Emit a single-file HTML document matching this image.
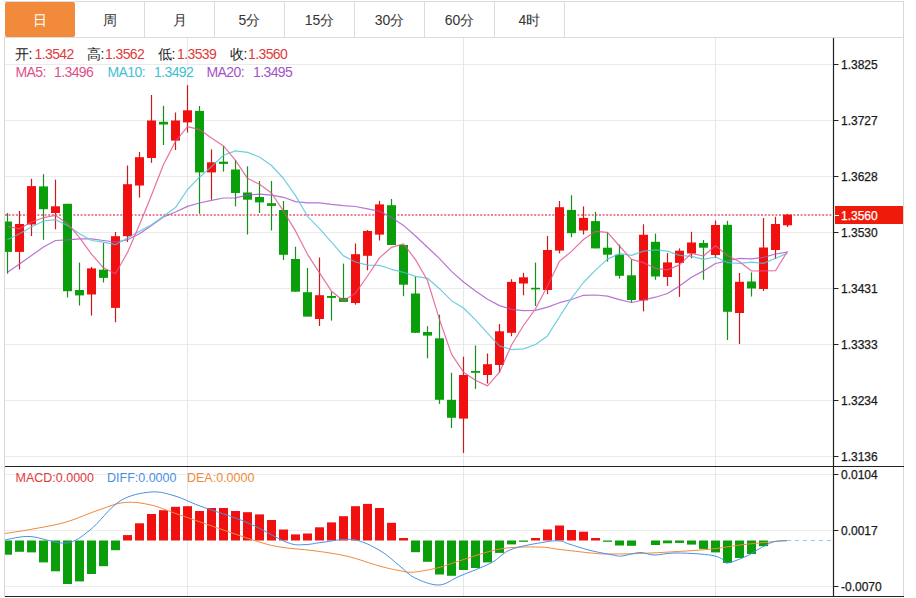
<!DOCTYPE html>
<html><head><meta charset="utf-8">
<style>
html,body{margin:0;padding:0;background:#fff;}
body{width:916px;height:598px;position:relative;overflow:hidden;font-family:"Liberation Sans",sans-serif;}
.tabs{position:absolute;left:4px;top:1px;width:900px;height:37px;border-top:1px solid #dcdcdc;border-bottom:1px solid #dcdcdc;box-sizing:border-box;}
.tab{position:absolute;top:0;height:35px;width:70px;border-right:1px solid #dcdcdc;box-sizing:border-box;text-align:center;line-height:37px;font-size:14px;color:#333;}
.tab.on{background:#f28a3c;color:#fff;border-right:none;border-radius:2px;}
svg{position:absolute;left:0;top:0;}
.ax{font-family:"Liberation Sans",sans-serif;font-size:12px;fill:#1a1a1a;stroke:#1a1a1a;stroke-width:0.25px;}
.lg{position:absolute;font-size:14px;letter-spacing:-0.6px;white-space:pre;line-height:16px;}
.l1{top:46px;} .v{color:#e03a3a;} .l2{top:64px;} .l3{top:470px;font-size:12.5px;letter-spacing:0;}
</style></head><body>
<div class="tabs">
<div class="tab on" style="left:1px;width:70px">日</div>
<div class="tab" style="left:71px">周</div>
<div class="tab" style="left:141px">月</div>
<div class="tab" style="left:211px">5分</div>
<div class="tab" style="left:281px">15分</div>
<div class="tab" style="left:351px">30分</div>
<div class="tab" style="left:421px">60分</div>
<div class="tab" style="left:491px">4时</div>
</div>
<svg width="916" height="598" viewBox="0 0 916 598">
<defs><clipPath id="clipMain"><rect x="5" y="38" width="828" height="428"/></clipPath>
<clipPath id="clipMacd"><rect x="5" y="467" width="828" height="129"/></clipPath></defs>
<line x1="5" y1="64.5" x2="833" y2="64.5" stroke="#ebebeb" stroke-width="1"/><line x1="5" y1="120.5" x2="833" y2="120.5" stroke="#ebebeb" stroke-width="1"/><line x1="5" y1="176.5" x2="833" y2="176.5" stroke="#ebebeb" stroke-width="1"/><line x1="5" y1="232.5" x2="833" y2="232.5" stroke="#ebebeb" stroke-width="1"/><line x1="5" y1="288.5" x2="833" y2="288.5" stroke="#ebebeb" stroke-width="1"/><line x1="5" y1="344.5" x2="833" y2="344.5" stroke="#ebebeb" stroke-width="1"/><line x1="5" y1="400.5" x2="833" y2="400.5" stroke="#ebebeb" stroke-width="1"/><line x1="5" y1="456.5" x2="833" y2="456.5" stroke="#ebebeb" stroke-width="1"/><line x1="5" y1="474.5" x2="833" y2="474.5" stroke="#ebebeb" stroke-width="1"/><line x1="5" y1="530.5" x2="833" y2="530.5" stroke="#ebebeb" stroke-width="1"/><line x1="5" y1="586.5" x2="833" y2="586.5" stroke="#ebebeb" stroke-width="1"/><line x1="187.5" y1="38" x2="187.5" y2="596" stroke="#e4e8ee" stroke-width="1"/><line x1="463.5" y1="38" x2="463.5" y2="596" stroke="#e4e8ee" stroke-width="1"/><line x1="715.5" y1="38" x2="715.5" y2="596" stroke="#e4e8ee" stroke-width="1"/><line x1="5" y1="215" x2="833" y2="215" stroke="#e65a6e" stroke-width="1.3" stroke-dasharray="2,1.6"/><g clip-path="url(#clipMain)"><rect x="6.9" y="213.0" width="1.2" height="60.7" fill="#16901a"/><rect x="3" y="221.5" width="9" height="30.4" fill="#0a9e0a"/><rect x="18.9" y="211.0" width="1.2" height="58.4" fill="#c81c1c"/><rect x="15" y="224.0" width="9" height="27.9" fill="#f01010"/><rect x="30.9" y="178.8" width="1.2" height="57.2" fill="#c81c1c"/><rect x="27" y="186.1" width="9" height="38.4" fill="#f01010"/><rect x="42.9" y="174.2" width="1.2" height="65.6" fill="#16901a"/><rect x="39" y="186.4" width="9" height="22.8" fill="#0a9e0a"/><rect x="54.9" y="179.6" width="1.2" height="49.7" fill="#c81c1c"/><rect x="51" y="206.3" width="9" height="6.7" fill="#f01010"/><rect x="66.9" y="203.8" width="1.2" height="93.7" fill="#16901a"/><rect x="63" y="203.8" width="9" height="87.4" fill="#0a9e0a"/><rect x="78.9" y="262.6" width="1.2" height="42.9" fill="#16901a"/><rect x="75" y="290.0" width="9" height="5.4" fill="#0a9e0a"/><rect x="90.9" y="266.9" width="1.2" height="48.7" fill="#c81c1c"/><rect x="87" y="268.4" width="9" height="26.1" fill="#f01010"/><rect x="102.9" y="243.0" width="1.2" height="39.5" fill="#16901a"/><rect x="99" y="269.7" width="9" height="8.2" fill="#0a9e0a"/><rect x="114.9" y="232.0" width="1.2" height="90.2" fill="#c81c1c"/><rect x="111" y="236.2" width="9" height="71.7" fill="#f01010"/><rect x="126.9" y="165.5" width="1.2" height="76.5" fill="#c81c1c"/><rect x="123" y="184.2" width="9" height="52.0" fill="#f01010"/><rect x="138.9" y="152.0" width="1.2" height="45.6" fill="#c81c1c"/><rect x="135" y="157.2" width="9" height="28.3" fill="#f01010"/><rect x="150.9" y="95.0" width="1.2" height="67.8" fill="#c81c1c"/><rect x="147" y="120.5" width="9" height="37.5" fill="#f01010"/><rect x="162.9" y="105.8" width="1.2" height="39.2" fill="#16901a"/><rect x="159" y="121.8" width="9" height="2.7" fill="#0a9e0a"/><rect x="174.9" y="112.5" width="1.2" height="37.5" fill="#c81c1c"/><rect x="171" y="120.5" width="9" height="20.1" fill="#f01010"/><rect x="186.9" y="85.2" width="1.2" height="47.3" fill="#c81c1c"/><rect x="183" y="110.3" width="9" height="12.1" fill="#f01010"/><rect x="198.9" y="106.0" width="1.2" height="107.7" fill="#16901a"/><rect x="195" y="110.9" width="9" height="61.5" fill="#0a9e0a"/><rect x="210.9" y="149.4" width="1.2" height="50.3" fill="#c81c1c"/><rect x="207" y="162.3" width="9" height="10.1" fill="#f01010"/><rect x="222.9" y="146.2" width="1.2" height="25.4" fill="#16901a"/><rect x="219" y="161.7" width="9" height="2.2" fill="#0a9e0a"/><rect x="234.9" y="160.0" width="1.2" height="46.4" fill="#16901a"/><rect x="231" y="169.5" width="9" height="23.5" fill="#0a9e0a"/><rect x="246.9" y="166.3" width="1.2" height="68.2" fill="#16901a"/><rect x="243" y="192.5" width="9" height="7.2" fill="#0a9e0a"/><rect x="258.9" y="181.0" width="1.2" height="32.0" fill="#16901a"/><rect x="255" y="197.0" width="9" height="5.4" fill="#0a9e0a"/><rect x="270.9" y="181.0" width="1.2" height="49.5" fill="#16901a"/><rect x="267" y="203.2" width="9" height="2.7" fill="#0a9e0a"/><rect x="282.9" y="201.0" width="1.2" height="59.0" fill="#16901a"/><rect x="279" y="210.0" width="9" height="44.8" fill="#0a9e0a"/><rect x="294.9" y="246.7" width="1.2" height="45.0" fill="#16901a"/><rect x="291" y="259.0" width="9" height="32.7" fill="#0a9e0a"/><rect x="306.9" y="268.0" width="1.2" height="48.6" fill="#16901a"/><rect x="303" y="292.2" width="9" height="24.4" fill="#0a9e0a"/><rect x="318.9" y="257.5" width="1.2" height="68.5" fill="#c81c1c"/><rect x="315" y="295.2" width="9" height="23.8" fill="#f01010"/><rect x="330.9" y="291.7" width="1.2" height="28.9" fill="#16901a"/><rect x="327" y="296.0" width="9" height="1.9" fill="#0a9e0a"/><rect x="342.9" y="263.6" width="1.2" height="38.3" fill="#16901a"/><rect x="339" y="297.9" width="9" height="4.0" fill="#0a9e0a"/><rect x="354.9" y="243.5" width="1.2" height="61.1" fill="#c81c1c"/><rect x="351" y="254.2" width="9" height="48.8" fill="#f01010"/><rect x="366.9" y="230.0" width="1.2" height="40.3" fill="#c81c1c"/><rect x="363" y="231.0" width="9" height="24.8" fill="#f01010"/><rect x="378.9" y="200.9" width="1.2" height="39.6" fill="#c81c1c"/><rect x="375" y="204.4" width="9" height="30.2" fill="#f01010"/><rect x="390.9" y="199.0" width="1.2" height="46.0" fill="#16901a"/><rect x="387" y="205.2" width="9" height="39.8" fill="#0a9e0a"/><rect x="402.9" y="245.0" width="1.2" height="51.2" fill="#16901a"/><rect x="399" y="245.0" width="9" height="39.7" fill="#0a9e0a"/><rect x="414.9" y="276.6" width="1.2" height="56.2" fill="#16901a"/><rect x="411" y="293.5" width="9" height="39.3" fill="#0a9e0a"/><rect x="426.9" y="326.2" width="1.2" height="32.1" fill="#16901a"/><rect x="423" y="332.0" width="9" height="3.6" fill="#0a9e0a"/><rect x="438.9" y="314.7" width="1.2" height="89.2" fill="#16901a"/><rect x="435" y="338.3" width="9" height="61.5" fill="#0a9e0a"/><rect x="450.9" y="372.8" width="1.2" height="55.2" fill="#16901a"/><rect x="447" y="399.8" width="9" height="18.0" fill="#0a9e0a"/><rect x="462.9" y="356.7" width="1.2" height="96.3" fill="#c81c1c"/><rect x="459" y="375.0" width="9" height="43.6" fill="#f01010"/><rect x="474.9" y="345.5" width="1.2" height="43.4" fill="#16901a"/><rect x="471" y="371.0" width="9" height="1.8" fill="#0a9e0a"/><rect x="486.9" y="353.5" width="1.2" height="30.0" fill="#c81c1c"/><rect x="483" y="364.2" width="9" height="10.8" fill="#f01010"/><rect x="498.9" y="324.0" width="1.2" height="48.8" fill="#c81c1c"/><rect x="495" y="331.3" width="9" height="33.7" fill="#f01010"/><rect x="510.9" y="279.2" width="1.2" height="57.0" fill="#c81c1c"/><rect x="507" y="281.9" width="9" height="50.9" fill="#f01010"/><rect x="522.9" y="272.8" width="1.2" height="22.5" fill="#c81c1c"/><rect x="519" y="277.3" width="9" height="6.2" fill="#f01010"/><rect x="534.9" y="262.6" width="1.2" height="43.4" fill="#16901a"/><rect x="531" y="287.8" width="9" height="1.6" fill="#0a9e0a"/><rect x="546.9" y="235.9" width="1.2" height="58.3" fill="#c81c1c"/><rect x="543" y="250.0" width="9" height="40.0" fill="#f01010"/><rect x="558.9" y="201.0" width="1.2" height="52.3" fill="#c81c1c"/><rect x="555" y="207.2" width="9" height="43.4" fill="#f01010"/><rect x="570.9" y="195.2" width="1.2" height="42.0" fill="#16901a"/><rect x="567" y="209.9" width="9" height="23.3" fill="#0a9e0a"/><rect x="582.9" y="206.4" width="1.2" height="28.1" fill="#c81c1c"/><rect x="579" y="217.9" width="9" height="12.6" fill="#f01010"/><rect x="594.9" y="211.8" width="1.2" height="36.6" fill="#16901a"/><rect x="591" y="221.1" width="9" height="27.3" fill="#0a9e0a"/><rect x="606.9" y="232.5" width="1.2" height="29.2" fill="#16901a"/><rect x="603" y="247.7" width="9" height="7.0" fill="#0a9e0a"/><rect x="618.9" y="244.6" width="1.2" height="34.0" fill="#16901a"/><rect x="615" y="254.7" width="9" height="21.1" fill="#0a9e0a"/><rect x="630.9" y="259.4" width="1.2" height="43.3" fill="#16901a"/><rect x="627" y="275.3" width="9" height="24.7" fill="#0a9e0a"/><rect x="642.9" y="224.3" width="1.2" height="87.1" fill="#c81c1c"/><rect x="639" y="234.8" width="9" height="65.6" fill="#f01010"/><rect x="654.9" y="233.6" width="1.2" height="46.2" fill="#16901a"/><rect x="651" y="241.8" width="9" height="34.7" fill="#0a9e0a"/><rect x="666.9" y="253.0" width="1.2" height="32.9" fill="#c81c1c"/><rect x="663" y="262.4" width="9" height="14.6" fill="#f01010"/><rect x="678.9" y="248.4" width="1.2" height="48.5" fill="#c81c1c"/><rect x="675" y="250.7" width="9" height="12.2" fill="#f01010"/><rect x="690.9" y="231.8" width="1.2" height="26.4" fill="#c81c1c"/><rect x="687" y="242.5" width="9" height="11.0" fill="#f01010"/><rect x="702.9" y="240.0" width="1.2" height="39.8" fill="#16901a"/><rect x="699" y="243.0" width="9" height="4.7" fill="#0a9e0a"/><rect x="714.9" y="220.5" width="1.2" height="37.5" fill="#c81c1c"/><rect x="711" y="225.0" width="9" height="30.0" fill="#f01010"/><rect x="726.9" y="220.8" width="1.2" height="119.2" fill="#16901a"/><rect x="723" y="224.8" width="9" height="87.0" fill="#0a9e0a"/><rect x="738.9" y="273.0" width="1.2" height="71.0" fill="#c81c1c"/><rect x="735" y="281.8" width="9" height="31.2" fill="#f01010"/><rect x="750.9" y="272.4" width="1.2" height="24.1" fill="#16901a"/><rect x="747" y="281.5" width="9" height="7.0" fill="#0a9e0a"/><rect x="762.9" y="218.0" width="1.2" height="73.0" fill="#c81c1c"/><rect x="759" y="247.5" width="9" height="41.5" fill="#f01010"/><rect x="774.9" y="216.8" width="1.2" height="42.2" fill="#c81c1c"/><rect x="771" y="224.0" width="9" height="26.0" fill="#f01010"/><rect x="786.9" y="213.8" width="1.2" height="13.2" fill="#c81c1c"/><rect x="783" y="214.6" width="9" height="10.7" fill="#f01010"/></g><g clip-path="url(#clipMain)" opacity="0.8"><polyline points="7.5,272.2 19.5,263.9 31.5,255.5 43.5,247.0 55.5,240.5 67.5,239.8 79.5,238.8 91.5,238.8 103.5,240.5 115.5,242.0 127.5,239.8 139.5,233.8 151.5,225.4 163.5,217.0 175.5,212.0 187.5,206.4 199.5,203.0 211.5,200.3 223.5,198.0 235.5,197.8 247.5,195.2 259.5,194.1 271.5,195.1 283.5,197.3 295.5,201.6 307.5,202.9 319.5,202.9 331.5,204.4 343.5,205.6 355.5,206.5 367.5,208.8 379.5,211.2 391.5,217.4 403.5,225.4 415.5,236.0 427.5,247.3 439.5,258.6 451.5,271.4 463.5,282.0 475.5,291.0 487.5,299.2 499.5,305.6 511.5,309.4 523.5,310.6 535.5,310.4 547.5,307.1 559.5,302.7 571.5,299.5 583.5,295.3 595.5,295.0 607.5,296.2 619.5,299.7 631.5,302.5 643.5,300.0 655.5,297.2 667.5,293.5 679.5,286.1 691.5,277.3 703.5,270.9 715.5,263.5 727.5,260.9 739.5,258.4 751.5,258.8 763.5,257.3 775.5,254.0 787.5,252.2" fill="none" stroke="#a454c8" stroke-width="1.2" stroke-linejoin="round"/><polyline points="7.5,239.8 19.5,233.8 31.5,227.0 43.5,221.0 55.5,219.7 67.5,225.4 79.5,233.8 91.5,240.5 103.5,242.1 115.5,244.7 127.5,237.9 139.5,231.2 151.5,224.7 163.5,216.2 175.5,207.6 187.5,189.5 199.5,177.2 211.5,166.6 223.5,155.2 235.5,150.9 247.5,152.4 259.5,157.0 271.5,165.5 283.5,178.5 295.5,195.6 307.5,216.3 319.5,228.6 331.5,242.1 343.5,255.9 355.5,262.0 367.5,265.2 379.5,265.4 391.5,269.3 403.5,272.3 415.5,276.4 427.5,278.3 439.5,288.7 451.5,300.7 463.5,308.0 475.5,319.9 487.5,333.2 499.5,345.9 511.5,349.6 523.5,348.9 535.5,344.5 547.5,335.9 559.5,316.7 571.5,298.2 583.5,282.5 595.5,270.1 607.5,259.1 619.5,253.6 631.5,255.4 643.5,251.1 655.5,249.8 667.5,251.1 679.5,255.4 691.5,256.4 703.5,259.4 715.5,257.0 727.5,262.7 739.5,263.3 751.5,262.2 763.5,263.4 775.5,258.2 787.5,253.4" fill="none" stroke="#4cc3d9" stroke-width="1.2" stroke-linejoin="round"/><polyline points="7.5,226.4 19.5,228.8 31.5,222.0 43.5,217.7 55.5,215.5 67.5,223.4 79.5,237.6 91.5,254.1 103.5,267.8 115.5,273.8 127.5,252.4 139.5,224.8 151.5,195.2 163.5,164.5 175.5,141.4 187.5,126.6 199.5,129.6 211.5,138.0 223.5,145.9 235.5,160.4 247.5,178.3 259.5,184.3 271.5,193.0 283.5,211.2 295.5,230.9 307.5,254.3 319.5,272.8 331.5,291.2 343.5,300.7 355.5,293.2 367.5,276.0 379.5,257.9 391.5,247.3 403.5,243.9 415.5,259.6 427.5,280.5 439.5,319.6 451.5,354.1 463.5,372.2 475.5,380.2 487.5,385.9 499.5,372.2 511.5,345.0 523.5,325.5 535.5,308.8 547.5,286.0 559.5,261.2 571.5,251.4 583.5,239.5 595.5,231.3 607.5,232.3 619.5,246.0 631.5,259.4 643.5,262.7 655.5,268.4 667.5,269.9 679.5,264.9 691.5,253.4 703.5,256.0 715.5,245.7 727.5,255.5 739.5,261.8 751.5,271.0 763.5,270.9 775.5,270.7 787.5,251.3" fill="none" stroke="#e2508c" stroke-width="1.2" stroke-linejoin="round"/></g><g clip-path="url(#clipMacd)"><rect x="3" y="540.5" width="9" height="14.2" fill="#0a9e0a"/><rect x="15" y="540.5" width="9" height="11.3" fill="#0a9e0a"/><rect x="27" y="540.5" width="9" height="11.9" fill="#0a9e0a"/><rect x="39" y="540.5" width="9" height="21.9" fill="#0a9e0a"/><rect x="51" y="540.5" width="9" height="30.8" fill="#0a9e0a"/><rect x="63" y="540.5" width="9" height="43.5" fill="#0a9e0a"/><rect x="75" y="540.5" width="9" height="40.9" fill="#0a9e0a"/><rect x="87" y="540.5" width="9" height="33.5" fill="#0a9e0a"/><rect x="99" y="540.5" width="9" height="25.7" fill="#0a9e0a"/><rect x="111" y="540.5" width="9" height="9.7" fill="#0a9e0a"/><rect x="123" y="535.1" width="9" height="5.4" fill="#f01010"/><rect x="135" y="523.3" width="9" height="17.2" fill="#f01010"/><rect x="147" y="514.0" width="9" height="26.5" fill="#f01010"/><rect x="159" y="510.2" width="9" height="30.3" fill="#f01010"/><rect x="171" y="506.8" width="9" height="33.7" fill="#f01010"/><rect x="183" y="506.2" width="9" height="34.3" fill="#f01010"/><rect x="195" y="511.0" width="9" height="29.5" fill="#f01010"/><rect x="207" y="508.0" width="9" height="32.5" fill="#f01010"/><rect x="219" y="508.0" width="9" height="32.5" fill="#f01010"/><rect x="231" y="511.0" width="9" height="29.5" fill="#f01010"/><rect x="243" y="512.2" width="9" height="28.3" fill="#f01010"/><rect x="255" y="514.4" width="9" height="26.1" fill="#f01010"/><rect x="267" y="520.0" width="9" height="20.5" fill="#f01010"/><rect x="279" y="529.5" width="9" height="11.0" fill="#f01010"/><rect x="291" y="534.4" width="9" height="6.1" fill="#f01010"/><rect x="303" y="533.5" width="9" height="7.0" fill="#f01010"/><rect x="315" y="527.3" width="9" height="13.2" fill="#f01010"/><rect x="327" y="522.4" width="9" height="18.1" fill="#f01010"/><rect x="339" y="516.2" width="9" height="24.3" fill="#f01010"/><rect x="351" y="506.2" width="9" height="34.3" fill="#f01010"/><rect x="363" y="503.9" width="9" height="36.6" fill="#f01010"/><rect x="375" y="508.0" width="9" height="32.5" fill="#f01010"/><rect x="387" y="522.8" width="9" height="17.7" fill="#f01010"/><rect x="399" y="538.0" width="9" height="2.5" fill="#f01010"/><rect x="411" y="540.5" width="9" height="11.7" fill="#0a9e0a"/><rect x="423" y="540.5" width="9" height="21.3" fill="#0a9e0a"/><rect x="435" y="540.5" width="9" height="34.0" fill="#0a9e0a"/><rect x="447" y="540.5" width="9" height="35.3" fill="#0a9e0a"/><rect x="459" y="540.5" width="9" height="29.5" fill="#0a9e0a"/><rect x="471" y="540.5" width="9" height="27.5" fill="#0a9e0a"/><rect x="483" y="540.5" width="9" height="21.9" fill="#0a9e0a"/><rect x="495" y="540.5" width="9" height="12.4" fill="#0a9e0a"/><rect x="507" y="540.5" width="9" height="3.9" fill="#0a9e0a"/><rect x="519" y="540.5" width="9" height="1.3" fill="#0a9e0a"/><rect x="531" y="538.0" width="9" height="2.5" fill="#f01010"/><rect x="543" y="529.5" width="9" height="11.0" fill="#f01010"/><rect x="555" y="525.5" width="9" height="15.0" fill="#f01010"/><rect x="567" y="530.0" width="9" height="10.5" fill="#f01010"/><rect x="579" y="531.7" width="9" height="8.8" fill="#f01010"/><rect x="591" y="538.0" width="9" height="2.5" fill="#f01010"/><rect x="603" y="540.5" width="9" height="1.3" fill="#0a9e0a"/><rect x="615" y="540.5" width="9" height="5.0" fill="#0a9e0a"/><rect x="627" y="540.5" width="9" height="5.3" fill="#0a9e0a"/><rect x="651" y="540.5" width="9" height="4.5" fill="#0a9e0a"/><rect x="663" y="540.5" width="9" height="2.8" fill="#0a9e0a"/><rect x="675" y="540.5" width="9" height="2.4" fill="#0a9e0a"/><rect x="687" y="540.5" width="9" height="4.1" fill="#0a9e0a"/><rect x="699" y="540.5" width="9" height="8.4" fill="#0a9e0a"/><rect x="711" y="540.5" width="9" height="11.9" fill="#0a9e0a"/><rect x="723" y="540.5" width="9" height="22.4" fill="#0a9e0a"/><rect x="735" y="540.5" width="9" height="17.5" fill="#0a9e0a"/><rect x="747" y="540.5" width="9" height="13.5" fill="#0a9e0a"/><rect x="759" y="540.5" width="9" height="5.7" fill="#0a9e0a"/></g><g clip-path="url(#clipMacd)"><path d="M5.0,533.5 C9.2,532.8 20.0,531.4 30.0,529.5 C40.0,527.6 53.3,525.7 65.0,522.4 C76.7,519.1 90.0,512.8 100.0,509.5 C110.0,506.2 116.5,503.1 125.0,502.4 C133.5,501.6 141.8,502.9 151.0,505.0 C160.2,507.1 163.0,509.2 180.0,515.0 C197.0,520.8 236.3,534.7 253.0,540.0 C269.7,545.3 270.0,545.2 280.0,547.0 C290.0,548.8 301.8,549.1 313.0,550.6 C324.2,552.1 335.8,553.6 347.0,556.2 C358.2,558.8 371.2,563.8 380.0,566.2 C388.8,568.6 394.5,569.7 400.0,570.7 C405.5,571.7 406.7,572.7 413.0,572.2 C419.3,571.7 430.2,569.7 438.0,567.8 C445.8,565.9 449.7,563.8 460.0,560.7 C470.3,557.6 487.0,551.3 500.0,549.0 C513.0,546.7 528.0,546.9 538.0,547.0 C548.0,547.1 551.2,548.5 560.0,549.5 C568.8,550.5 582.5,552.2 591.0,553.0 C599.5,553.8 601.0,554.0 611.0,554.0 C621.0,554.0 635.0,553.8 651.0,553.0 C667.0,552.2 692.2,550.8 707.0,549.5 C721.8,548.2 729.7,546.2 740.0,545.0 C750.3,543.8 761.2,542.7 769.0,542.0 C776.8,541.3 784.0,540.8 787.0,540.6" fill="none" stroke="#f08a3c" stroke-width="1"/><path d="M5.0,540.0 C9.2,539.4 19.8,536.0 30.0,536.5 C40.2,537.0 56.0,544.1 66.0,543.0 C76.0,541.9 81.0,537.0 90.0,530.0 C99.0,523.0 109.8,507.3 120.0,501.0 C130.2,494.7 141.8,492.8 151.0,492.0 C160.2,491.2 166.8,493.7 175.0,496.0 C183.2,498.3 188.0,501.6 200.0,506.0 C212.0,510.4 232.5,516.4 247.0,522.5 C261.5,528.6 277.3,538.7 287.0,542.4 C296.7,546.1 299.2,544.6 305.0,544.6 C310.8,544.6 314.0,543.2 322.0,542.4 C330.0,541.5 343.3,538.1 353.0,539.5 C362.7,540.9 372.2,546.1 380.0,550.6 C387.8,555.1 394.2,561.6 400.0,566.2 C405.8,570.8 408.5,574.9 415.0,578.0 C421.5,581.1 431.5,585.3 439.0,585.0 C446.5,584.7 451.3,579.7 460.0,576.0 C468.7,572.3 482.5,567.4 491.0,563.0 C499.5,558.6 502.0,553.0 511.0,549.5 C520.0,546.0 536.8,543.4 545.0,542.0 C553.2,540.6 556.0,540.7 560.0,541.0 C564.0,541.3 563.8,542.4 569.0,544.0 C574.2,545.6 583.7,548.8 591.0,550.6 C598.3,552.4 607.8,554.1 613.0,555.0 C618.2,555.9 617.5,556.4 622.0,556.0 C626.5,555.6 634.7,552.7 640.0,552.5 C645.3,552.3 648.3,554.9 654.0,555.0 C659.7,555.1 666.3,553.2 674.0,553.0 C681.7,552.8 693.2,553.5 700.0,554.0 C706.8,554.5 711.2,555.1 715.0,556.0 C718.8,556.9 720.8,558.3 723.0,559.5 C725.2,560.7 724.0,563.6 728.0,563.0 C732.0,562.4 742.0,558.2 747.0,556.0 C752.0,553.8 753.7,551.8 758.0,549.5 C762.3,547.2 768.2,543.5 773.0,542.0 C777.8,540.5 784.7,540.8 787.0,540.6" fill="none" stroke="#4a90e2" stroke-width="1"/></g><line x1="787" y1="540.5" x2="831" y2="540.5" stroke="#9cc8e8" stroke-width="1" stroke-dasharray="4,4"/><line x1="4.5" y1="37" x2="4.5" y2="597" stroke="#d8d8d8" stroke-width="1"/><line x1="903.5" y1="1" x2="903.5" y2="597" stroke="#d8d8d8" stroke-width="1"/><line x1="833.5" y1="38" x2="833.5" y2="597" stroke="#222" stroke-width="1.2"/><line x1="5" y1="466.5" x2="904" y2="466.5" stroke="#222" stroke-width="1.2"/><line x1="5" y1="596.5" x2="904" y2="596.5" stroke="#222" stroke-width="1.2"/><line x1="833" y1="64.5" x2="838.5" y2="64.5" stroke="#222" stroke-width="1"/><text x="841" y="68.5" class="ax">1.3825</text><line x1="833" y1="120.5" x2="838.5" y2="120.5" stroke="#222" stroke-width="1"/><text x="841" y="124.5" class="ax">1.3727</text><line x1="833" y1="176.5" x2="838.5" y2="176.5" stroke="#222" stroke-width="1"/><text x="841" y="180.5" class="ax">1.3628</text><line x1="833" y1="232.5" x2="838.5" y2="232.5" stroke="#222" stroke-width="1"/><text x="841" y="236.5" class="ax">1.3530</text><line x1="833" y1="288.5" x2="838.5" y2="288.5" stroke="#222" stroke-width="1"/><text x="841" y="292.5" class="ax">1.3431</text><line x1="833" y1="344.5" x2="838.5" y2="344.5" stroke="#222" stroke-width="1"/><text x="841" y="348.5" class="ax">1.3333</text><line x1="833" y1="400.5" x2="838.5" y2="400.5" stroke="#222" stroke-width="1"/><text x="841" y="404.5" class="ax">1.3234</text><line x1="833" y1="456.5" x2="838.5" y2="456.5" stroke="#222" stroke-width="1"/><text x="841" y="460.5" class="ax">1.3136</text><line x1="833" y1="474.5" x2="838.5" y2="474.5" stroke="#222" stroke-width="1"/><text x="841" y="478.5" class="ax">0.0104</text><line x1="833" y1="530.5" x2="838.5" y2="530.5" stroke="#222" stroke-width="1"/><text x="841" y="534.5" class="ax">0.0017</text><line x1="833" y1="586.5" x2="838.5" y2="586.5" stroke="#222" stroke-width="1"/><text x="841" y="590.5" class="ax">-0.0070</text><rect x="835" y="206" width="68" height="18" fill="#f01a0a"/><line x1="835" y1="215.5" x2="839" y2="215.5" stroke="#fff" stroke-width="1"/><text x="841" y="219.5" class="ax" style="fill:#fff;stroke:#fff">1.3560</text>
</svg>
<div class="lg l1" style="left:15px;color:#222">开:</div><div class="lg l1 v" style="left:34.5px">1.3542</div>
<div class="lg l1" style="left:87px;color:#222">高:</div><div class="lg l1 v" style="left:105px">1.3562</div>
<div class="lg l1" style="left:158px;color:#222">低:</div><div class="lg l1 v" style="left:177px">1.3539</div>
<div class="lg l1" style="left:230px;color:#222">收:</div><div class="lg l1 v" style="left:248px">1.3560</div>
<div class="lg l2" style="left:15.5px;color:#e0508a">MA5:</div><div class="lg l2" style="left:54px;color:#e0508a">1.3496</div>
<div class="lg l2" style="left:107.5px;color:#3fc0d4">MA10:</div><div class="lg l2" style="left:154px;color:#3fc0d4">1.3492</div>
<div class="lg l2" style="left:206.5px;color:#a552c8">MA20:</div><div class="lg l2" style="left:253px;color:#a552c8">1.3495</div>
<div class="lg l3" style="left:15.5px;color:#e03a3a">MACD:0.0000</div>
<div class="lg l3" style="left:107px;color:#4a90e2">DIFF:0.0000</div>
<div class="lg l3" style="left:187px;color:#f08a3c">DEA:0.0000</div>
</body></html>
